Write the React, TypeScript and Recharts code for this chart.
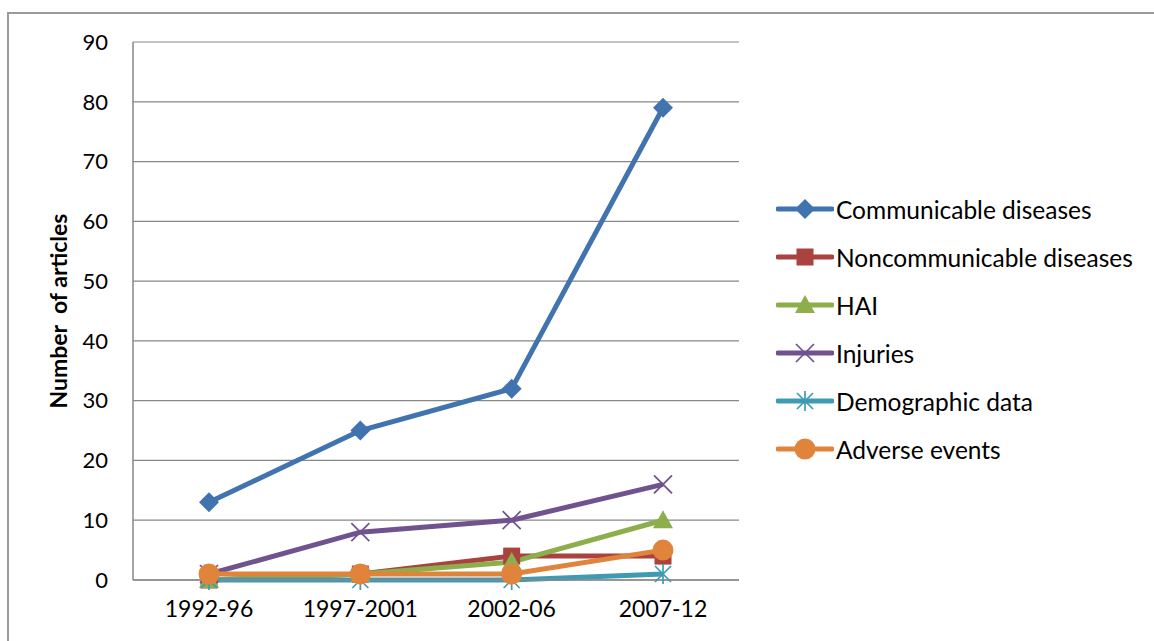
import React from 'react';
import { LineChart, Line, XAxis, YAxis, CartesianGrid } from 'recharts';

const periods = ['1992-96', '1997-2001', '2002-06', '2007-12'];

const communicable = [13, 25, 32, 79];
const noncommunicable = [0, 1, 4, 4];
const hai = [0, 1, 3, 10];
const injuries = [1, 8, 10, 16];
const demographic = [0, 0, 0, 1];
const adverse = [1, 1, 1, 5];

const yTicks = [0, 10, 20, 30, 40, 50, 60, 70, 80, 90];

const FONT = 'Lato, "Open Sans", sans-serif';
const GRID = '#878787';

type Shape = 'diamond' | 'square' | 'triangle' | 'cross' | 'star' | 'circle';

const series: { key: string; name: string; color: string; shape: Shape; values: number[] }[] = [
  { key: 'communicable', name: 'Communicable diseases', color: '#4173AF', shape: 'diamond', values: communicable },
  { key: 'noncommunicable', name: 'Noncommunicable diseases', color: '#AA433F', shape: 'square', values: noncommunicable },
  { key: 'hai', name: 'HAI', color: '#8CAF4B', shape: 'triangle', values: hai },
  { key: 'injuries', name: 'Injuries', color: '#70528F', shape: 'cross', values: injuries },
  { key: 'demographic', name: 'Demographic data', color: '#3F9BB3', shape: 'star', values: demographic },
  { key: 'adverse', name: 'Adverse events', color: '#E0843B', shape: 'circle', values: adverse },
];

const data = periods.map((p, i) => {
  const row: Record<string, string | number> = { period: p };
  series.forEach(s => { row[s.key] = s.values[i]; });
  return row;
});

function Marker({ shape, color, cx, cy }: { shape: Shape; color: string; cx: number; cy: number }) {
  switch (shape) {
    case 'diamond':
      return <polygon points={`${cx},${cy - 10} ${cx + 10},${cy} ${cx},${cy + 10} ${cx - 10},${cy}`} fill={color} />;
    case 'square':
      return <rect x={cx - 8.5} y={cy - 8.5} width={17} height={17} fill={color} />;
    case 'triangle':
      return <polygon points={`${cx},${cy - 10} ${cx + 10},${cy + 8} ${cx - 10},${cy + 8}`} fill={color} />;
    case 'cross':
      return (
        <g stroke={color} strokeWidth={1.7}>
          <line x1={cx - 9} y1={cy - 9} x2={cx + 9} y2={cy + 9} />
          <line x1={cx - 9} y1={cy + 9} x2={cx + 9} y2={cy - 9} />
        </g>
      );
    case 'star':
      return (
        <g stroke={color} strokeWidth={1.7}>
          <line x1={cx - 8} y1={cy - 8} x2={cx + 8} y2={cy + 8} />
          <line x1={cx - 8} y1={cy + 8} x2={cx + 8} y2={cy - 8} />
          <line x1={cx} y1={cy - 10} x2={cx} y2={cy + 10} />
        </g>
      );
    default:
      return <circle cx={cx} cy={cy} r={10.5} fill={color} />;
  }
}

const makeDot = (shape: Shape, color: string) => (props: any) => {
  const { cx, cy, index } = props;
  if (cx == null || cy == null) return <g key={index} />;
  return <Marker key={index} shape={shape} color={color} cx={cx} cy={cy} />;
};

// legend box sits to the right of the plot, outside the chart layout
const SeriesLegend = () => (
  <div style={{ position: 'absolute', left: 776, top: 185, fontFamily: FONT, fontSize: 24.5, color: '#000' }}>
    {series.map(s => (
      <div key={s.key} style={{ display: 'flex', alignItems: 'center', height: 48 }}>
        <svg width={58} height={24} style={{ marginRight: 2 }}>
          <line x1={2} y1={12} x2={56} y2={12} stroke={s.color} strokeWidth={5} strokeLinecap="round" />
          <Marker shape={s.shape} color={s.color} cx={29} cy={12} />
        </svg>
        <span>{s.name}</span>
      </div>
    ))}
  </div>
);

const YLabel = (props: any) => {
  const { viewBox } = props;
  const cy = viewBox.y + viewBox.height / 2;
  return (
    <text x={67} y={cy} transform={`rotate(-90, 67, ${cy})`} textAnchor="middle" style={{ whiteSpace: 'pre' }}
      fontFamily={FONT} fontSize={23} fontWeight="bold" fill="#000">
      {'Number  of articles'}
    </text>
  );
};

export default function App() {
  return (
    <div style={{ position: 'absolute', left: 0, top: 0, width: 1154, height: 641, background: '#fff', overflow: 'hidden' }}>
      <div style={{ position: 'absolute', left: 7, top: 12, width: 1200, height: 700, border: '2px solid #9a9a9a', boxSizing: 'border-box' }} />
      <LineChart width={1154} height={641} data={data} margin={{ top: 42, right: 415, bottom: 21, left: 0 }}>
        <CartesianGrid vertical={false} stroke={GRID} strokeWidth={1.2} />
        <XAxis dataKey="period" padding={{ left: 76, right: 76 }} stroke={GRID} strokeWidth={1.5} tickLine={false} tickSize={0} tickMargin={21} height={40}
          tick={{ fill: '#000', fontSize: 23, fontFamily: FONT }} />
        <YAxis domain={[0, 90]} ticks={yTicks} interval={0} stroke={GRID} strokeWidth={1.5} tickLine={false} tickSize={0} tickMargin={25}
          width={133} tick={{ fill: '#000', fontSize: 22, fontFamily: FONT }} label={<YLabel />} />
        {series.map(s => (
          <Line key={s.key} dataKey={s.key} name={s.name} stroke={s.color} strokeWidth={5}
            dot={makeDot(s.shape, s.color)} activeDot={false} isAnimationActive={false} />
        ))}
      </LineChart>
      <SeriesLegend />
    </div>
  );
}
